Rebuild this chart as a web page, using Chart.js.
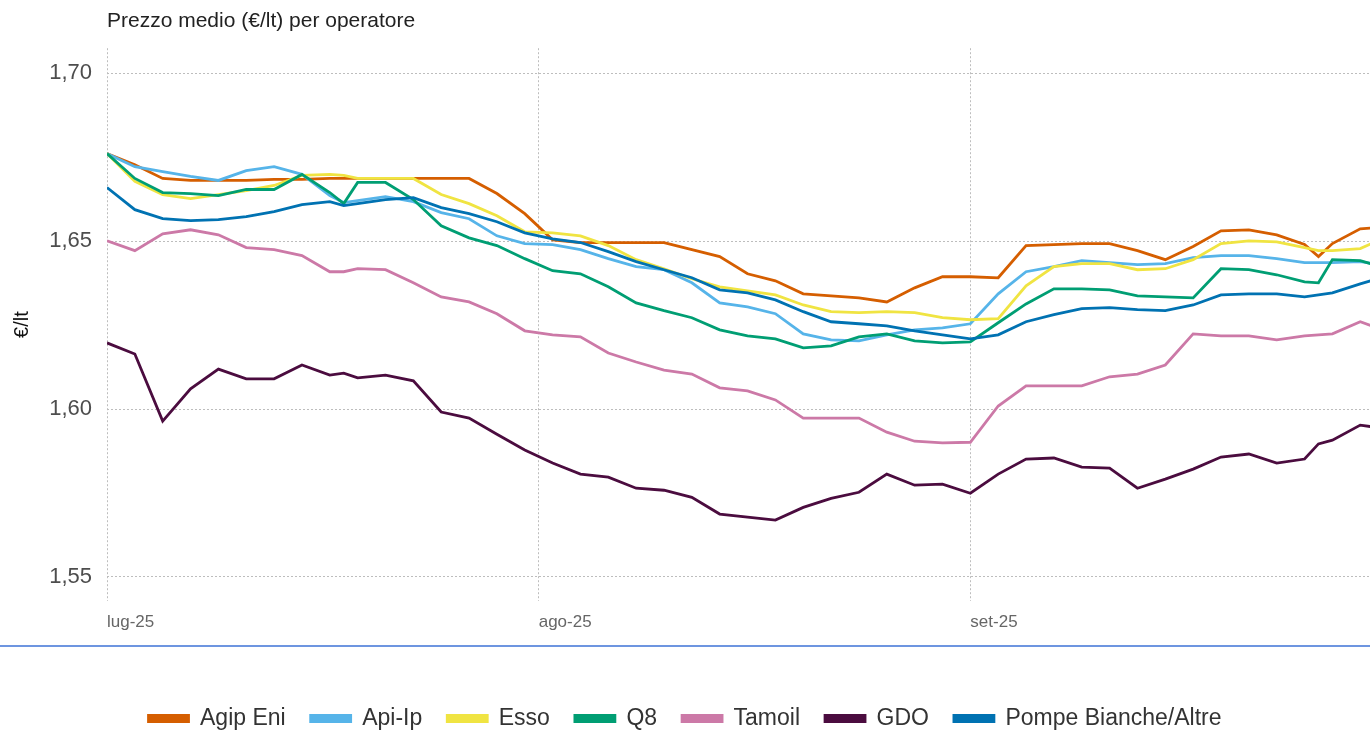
<!DOCTYPE html>
<html lang="it">
<head>
<meta charset="UTF-8">
<title>Prezzo medio per operatore</title>
<script src="https://cdn.jsdelivr.net/npm/chart.js"></script>
<style>
  html, body { margin: 0; padding: 0; background: #fff; overflow: hidden; }
  #wrap { width: 1370px; height: 730px; position: relative; }
</style>
</head>
<body>
<div id="wrap"><canvas id="prezzi"></canvas></div>
<script>
// giorni dal 1 luglio 2025 (0 = 1 lug)
const days = [0,2,4,6,8,10,12,14,16,17,18,20,22,24,26,28,30,32,34,36,38,40,42,44,46,48,50,52,54,56,58,60,62,64,66,68,70,72,74,76,78,80,82,84,86,87,88,90,91];

const agipEni = [1.6761,1.6728,1.6687,1.6681,1.6681,1.6681,1.6684,1.6684,1.6687,1.6687,1.6687,1.6687,1.6687,1.6687,1.6687,1.6642,1.6582,1.6504,1.6496,1.6496,1.6496,1.6496,1.6475,1.6454,1.6403,1.6382,1.6343,1.6337,1.6331,1.6319,1.6361,1.6394,1.6394,1.6391,1.6487,1.6490,1.6493,1.6493,1.6472,1.6445,1.6484,1.6531,1.6534,1.6519,1.6490,1.6454,1.6493,1.6537,1.6540];
const apiIp = [1.6761,1.6722,1.6707,1.6693,1.6681,1.6710,1.6722,1.6699,1.6636,1.6615,1.6621,1.6633,1.6618,1.6585,1.6567,1.6516,1.6493,1.6490,1.6475,1.6448,1.6424,1.6415,1.6376,1.6316,1.6304,1.6284,1.6224,1.6206,1.6203,1.6221,1.6236,1.6242,1.6254,1.6343,1.6409,1.6424,1.6442,1.6436,1.6430,1.6433,1.6451,1.6457,1.6457,1.6448,1.6436,1.6436,1.6436,1.6439,1.6433];
const esso = [1.6761,1.6678,1.6639,1.6627,1.6639,1.6651,1.6666,1.6696,1.6699,1.6696,1.6687,1.6687,1.6687,1.6639,1.6612,1.6576,1.6528,1.6525,1.6516,1.6487,1.6445,1.6418,1.6388,1.6364,1.6352,1.6340,1.6310,1.6290,1.6287,1.6290,1.6287,1.6272,1.6266,1.6269,1.6367,1.6424,1.6433,1.6433,1.6415,1.6418,1.6445,1.6493,1.6501,1.6498,1.6481,1.6472,1.6472,1.6478,1.6496];
const q8 = [1.6761,1.6687,1.6645,1.6642,1.6636,1.6654,1.6654,1.6699,1.6645,1.6612,1.6675,1.6675,1.6624,1.6546,1.6510,1.6487,1.6448,1.6412,1.6403,1.6364,1.6316,1.6293,1.6272,1.6236,1.6218,1.6209,1.6182,1.6188,1.6215,1.6224,1.6203,1.6197,1.6200,1.6257,1.6313,1.6358,1.6358,1.6355,1.6337,1.6334,1.6331,1.6418,1.6415,1.6400,1.6379,1.6376,1.6445,1.6442,1.6430];
const tamoil = [1.6501,1.6472,1.6522,1.6534,1.6519,1.6481,1.6475,1.6457,1.6409,1.6409,1.6418,1.6415,1.6376,1.6334,1.6319,1.6284,1.6233,1.6221,1.6215,1.6167,1.6140,1.6116,1.6104,1.6063,1.6054,1.6027,1.5973,1.5973,1.5973,1.5931,1.5904,1.5899,1.5901,1.6009,1.6069,1.6069,1.6069,1.6096,1.6104,1.6131,1.6224,1.6218,1.6218,1.6206,1.6218,1.6221,1.6224,1.6260,1.6245];
const gdo = [1.6197,1.6164,1.5964,1.6060,1.6119,1.6090,1.6090,1.6131,1.6101,1.6107,1.6093,1.6101,1.6084,1.5991,1.5973,1.5925,1.5878,1.5839,1.5806,1.5797,1.5764,1.5758,1.5737,1.5687,1.5678,1.5669,1.5707,1.5734,1.5752,1.5806,1.5773,1.5776,1.5749,1.5806,1.5851,1.5854,1.5827,1.5824,1.5764,1.5791,1.5821,1.5857,1.5866,1.5839,1.5851,1.5896,1.5907,1.5952,1.5946];
const pompeBianche = [1.6660,1.6594,1.6567,1.6561,1.6564,1.6573,1.6588,1.6609,1.6618,1.6606,1.6612,1.6624,1.6630,1.6600,1.6582,1.6558,1.6525,1.6507,1.6496,1.6469,1.6439,1.6415,1.6391,1.6355,1.6346,1.6325,1.6290,1.6260,1.6254,1.6248,1.6233,1.6221,1.6209,1.6221,1.6260,1.6281,1.6299,1.6302,1.6296,1.6293,1.6310,1.6340,1.6343,1.6343,1.6334,1.6340,1.6346,1.6373,1.6385];

const seriesNames = ['Agip Eni', 'Api-Ip', 'Esso', 'Q8', 'Tamoil', 'GDO', 'Pompe Bianche/Altre'];
const seriesValues = [agipEni, apiIp, esso, q8, tamoil, gdo, pompeBianche];
const seriesColors = ['#D55E00', '#56B4E9', '#F0E442', '#009E73', '#CC79A7', '#4B0C3F', '#0072B2'];

// tick mesi: 1 lug, 1 ago, 1 set
const monthTicks = [0, 31, 62];
const monthLabels = ['lug-25', 'ago-25', 'set-25'];
const yTicks = [1.55, 1.60, 1.65, 1.70];

Chart.defaults.font.family = "'Liberation Sans', Arial, sans-serif";
Chart.defaults.color = '#555';

const datasets = seriesNames.map((name, i) => ({
    label: name,
    data: days.map((d, j) => ({ x: d, y: seriesValues[i][j] })),
    borderColor: seriesColors[i],
    backgroundColor: seriesColors[i],
    borderWidth: 2.8,
    pointRadius: 0,
    tension: 0,
    order: seriesNames.length - i
}));

// linea separatrice blu sopra la legenda
const separator = {
    id: 'separator',
    afterDraw(chart) {
        const ctx = chart.ctx;
        const y = chart.chartArea.bottom + 45;
        ctx.save();
        ctx.strokeStyle = '#3D72D6';
        ctx.lineWidth = 1.5;
        ctx.beginPath();
        ctx.moveTo(0, y);
        ctx.lineTo(chart.width, y);
        ctx.stroke();
        ctx.restore();
    }
};

new Chart(document.getElementById('prezzi'), {
    type: 'line',
    data: { datasets: datasets },
    plugins: [separator],
    options: {
        responsive: true,
        maintainAspectRatio: false,
        animation: false,
        layout: { padding: { left: 0, right: 0, top: 0, bottom: -10 } },
        scales: {
            x: {
                type: 'linear',
                min: 0,
                max: 90.7,
                afterBuildTicks: s => { s.ticks = monthTicks.map(v => ({ value: v })); },
                afterFit: s => { s.height = 81; },
                ticks: {
                    align: 'start',
                    padding: 11,
                    maxRotation: 0,
                    color: '#666',
                    font: { size: 17 },
                    callback: v => monthLabels[monthTicks.indexOf(v)]
                },
                grid: { color: '#bdbdbd', lineWidth: 1, drawTicks: false },
                border: { display: false, dash: [2, 2] }
            },
            y: {
                min: 1.5428,
                max: 1.7075,
                afterBuildTicks: s => { s.ticks = yTicks.map(v => ({ value: v })); },
                afterFit: s => { s.width = 107; },
                ticks: {
                    padding: 15,
                    color: '#4d4d4d',
                    font: { size: 22 },
                    callback: v => v.toFixed(2).replace('.', ',')
                },
                grid: { color: '#bdbdbd', lineWidth: 1, drawTicks: false },
                border: { display: false, dash: [2, 2] },
                title: {
                    display: true,
                    text: '€/lt',
                    color: '#111',
                    font: { size: 20 },
                    padding: { top: 10, bottom: 0 }
                }
            }
        },
        plugins: {
            title: {
                display: true,
                text: 'Prezzo medio (€/lt) per operatore',
                align: 'start',
                fullSize: false,
                color: '#222',
                font: { size: 21, weight: 'normal' },
                padding: { top: 9, bottom: 14 }
            },
            legend: {
                position: 'bottom',
                labels: {
                    boxWidth: 40,
                    boxHeight: 6,
                    padding: 25,
                    color: '#333',
                    font: { size: 23 },
                    sort: (a, b) => a.datasetIndex - b.datasetIndex
                }
            },
            tooltip: { enabled: false }
        }
    }
});
</script>
</body>
</html>
